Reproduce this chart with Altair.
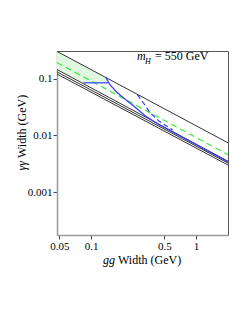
import altair as alt
import pandas as pd

# ---- data ----
x_domain = [0.0474, 2.02]
y_domain = [0.000177, 0.305]
x_ticks = [0.05, 0.1, 0.5, 1]
y_ticks = [0.001, 0.01, 0.1]

top_x = [0.0474, 2.02]
top_y = [0.30, 0.0074]
green_x = [0.0474, 2.02]
green_y = [0.191, 0.00457]
bundle_x = [0.0474, 2.02]
bundle1_y = [0.144, 0.00351]
bundle2_y = [0.131, 0.00326]
bundle3_y = [0.120, 0.00301]

blue_h_x = [0.0845, 0.145]
blue_h_y = [0.084, 0.084]
blue_curve_x = [0.138, 0.150, 0.175, 0.203, 0.26, 0.33, 0.45, 2.02]
blue_curve_y = [0.106, 0.080, 0.058, 0.046, 0.032, 0.022, 0.0152, 0.0034]
blue_dash_x = [0.276, 0.32, 0.365, 0.45, 0.6]
blue_dash_y = [0.052, 0.036, 0.025, 0.0175, 0.0125]

fill_x = [0.0474, 0.0845, 0.138, 0.145]
fill_lo = [0.144, 0.084, 0.084, 0.084]
fill_hi = [0.30, 0.168, 0.103, 0.084]

FONT = "Liberation Serif"

def seg(xs, ys, name):
    return pd.DataFrame({"x": xs, "y": ys, "id": name, "i": list(range(len(xs)))})

black_df = pd.concat([
    seg(top_x, top_y, "top"),
    seg(bundle_x, bundle1_y, "b1"),
    seg(bundle_x, bundle2_y, "b2"),
    seg(bundle_x, bundle3_y, "b3"),
])
green_df = seg(green_x, green_y, "g")
blue_df = pd.concat([
    seg(blue_h_x, blue_h_y, "h"),
    seg(blue_curve_x, blue_curve_y, "c"),
])
blue_dash_df = seg(blue_dash_x, blue_dash_y, "d")
fill_df = pd.DataFrame({"x": fill_x, "lo": fill_lo, "hi": fill_hi})

xs = alt.Scale(type="log", domain=x_domain, nice=False, clamp=True)
ys = alt.Scale(type="log", domain=y_domain, nice=False, clamp=True)

X = alt.X("x:Q", scale=xs, axis=alt.Axis(values=x_ticks, format="~g", title=None))
Y = alt.Y("y:Q", scale=ys, axis=alt.Axis(values=y_ticks, format="~g", title=None))

fill = alt.Chart(fill_df).mark_area(color="#dff8df", opacity=1).encode(
    x=alt.X("x:Q", scale=xs, axis=alt.Axis(values=x_ticks, format="~g", title=None)),
    y=alt.Y("lo:Q", scale=ys, axis=alt.Axis(values=y_ticks, format="~g", title=None)),
    y2="hi:Q",
)

black = alt.Chart(black_df).mark_line(color="#333333", strokeWidth=1).encode(
    x=X, y=Y, detail="id:N", order="i:Q")
green = alt.Chart(green_df).mark_line(color="#33ee33", strokeWidth=1.2, strokeDash=[6, 4]).encode(
    x=X, y=Y, detail="id:N", order="i:Q")
blue = alt.Chart(blue_df).mark_line(color="#3a3aff", strokeWidth=1.2).encode(
    x=X, y=Y, detail="id:N", order="i:Q")
blue_d = alt.Chart(blue_dash_df).mark_line(color="#3a3aff", strokeWidth=1.2, strokeDash=[5, 3]).encode(
    x=X, y=Y, detail="id:N", order="i:Q")

def label(text, x, y, size=12, style="normal", align="left", angle=0, baseline="alphabetic"):
    return alt.Chart(pd.DataFrame({"t": [text]})).mark_text(
        font=FONT, fontSize=size, fontStyle=style, align=align, baseline=baseline,
        angle=angle, color="black"
    ).encode(text="t:N", x=alt.value(x), y=alt.value(y))

texts = [
    label("m", 80, 8.5, 12, "italic"),
    label("H", 88, 13, 8, "italic"),
    label("= 550 GeV", 98, 8.5, 12),
    label("gg", 58, 213, 12, "italic", align="right"),
    label("Width (GeV)", 61, 213, 12, align="left"),
    label("γγ", -35, 110, 12, "italic", align="right", angle=270, baseline="middle"),
    label("Width (GeV)", -35, 107, 12, align="left", angle=270, baseline="middle"),
]

chart = alt.layer(fill, black, green, blue, blue_d, *texts).properties(
    width=171, height=184,
    autosize=alt.AutoSizeParams(type="none"),
    padding={"left": 49, "top": 43, "right": 10, "bottom": 70},
).configure_view(stroke="#555555", strokeWidth=1).configure_axis(
    grid=False, domainColor="#999999", domainWidth=1.5, tickColor="#444444",
    tickSize=4, labelFont=FONT, labelFontSize=11, labelColor="black", labelPadding=1,
)

chart.save("out.html", embed_options={"renderer": "svg", "actions": False})
